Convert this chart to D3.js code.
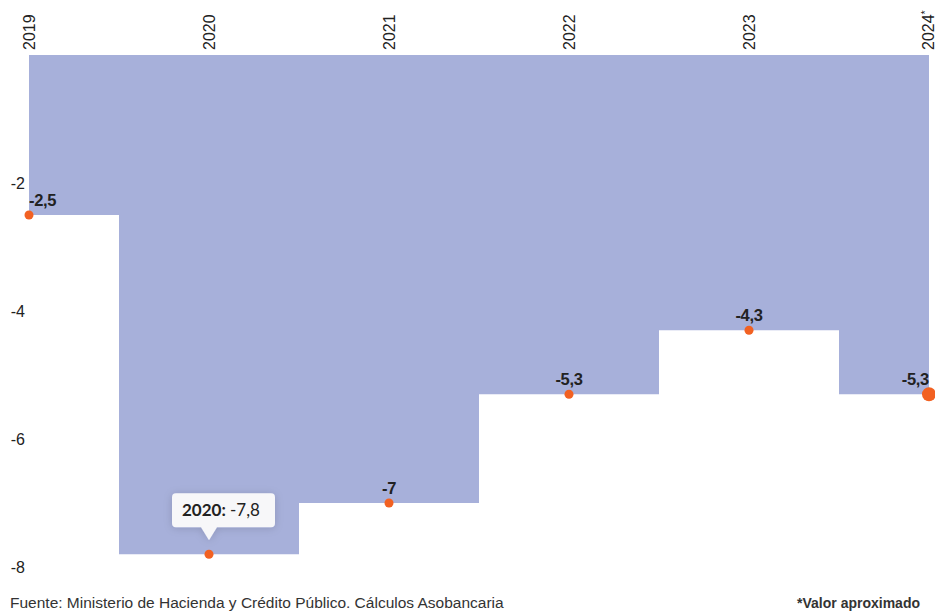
<!DOCTYPE html>
<html>
<head>
<meta charset="utf-8">
<script src="https://cdn.jsdelivr.net/npm/d3@7"></script>
<style>
  body { margin: 0; background: #fff; }
  svg { display: block; font-family: "Liberation Sans", Arial, sans-serif; }
</style>
</head>
<body>
<svg id="chart"></svg>
<script>
// data
const years = ['2019', '2020', '2021', '2022', '2023', '2024*'];
const values = [-2.5, -7.8, -7, -5.3, -4.3, -5.3];
const yTicks = [-2, -4, -6, -8];
const hoverIndex = 1;   // tooltip shown on 2020
const bigDotIndex = 5;  // enlarged marker on 2024

const width = 935, height = 611;
const svg = d3.select('#chart').attr('width', width).attr('height', height);

const x = d3.scalePoint().domain(years).range([29, 929]);
const y = d3.scaleLinear().domain([0, -8]).range([55, 567]);

const data = years.map((yr, i) => ({ year: yr, value: values[i] }));
const fmt = v => String(v).replace('.', ',');

// step area from 0 down to value
const area = d3.area()
  .curve(d3.curveStep)
  .x(d => x(d.year))
  .y0(y(0))
  .y1(d => y(d.value));

svg.append('path')
  .datum(data)
  .attr('d', area)
  .attr('fill', '#a7b0da');

// y axis labels
svg.append('g').selectAll('text')
  .data(yTicks)
  .join('text')
  .attr('x', 25)
  .attr('y', d => y(d))
  .attr('dy', '0.35em')
  .attr('text-anchor', 'end')
  .attr('font-size', 16)
  .attr('fill', '#222')
  .text(d => d);

// x axis labels (top, rotated)
svg.append('g').selectAll('text')
  .data(years)
  .join('text')
  .attr('transform', (d, i) => `translate(${x(d) + (i === years.length - 1 ? 5 : 6)},50) rotate(-90)`)
  .attr('text-anchor', 'start')
  .attr('font-size', 16)
  .attr('fill', '#222')
  .each(function(d) {
    const t = d3.select(this);
    const base = d.replace('*', '');
    t.append('tspan').text(base);
    if (d.endsWith('*')) t.append('tspan').attr('dy', -5).attr('font-size', 11).text('*');
  });

// markers
svg.append('g').selectAll('circle')
  .data(data)
  .join('circle')
  .attr('cx', d => x(d.year))
  .attr('cy', d => y(d.value))
  .attr('r', (d, i) => i === bigDotIndex ? 7 : 4.5)
  .attr('fill', '#f26122');

// data labels
svg.append('g').selectAll('text')
  .data(data)
  .join('text')
  .attr('x', d => x(d.year))
  .attr('y', d => y(d.value) - 9)
  .attr('text-anchor', (d, i) => i === 0 ? 'start' : (i === years.length - 1 ? 'end' : 'middle'))
  .attr('font-size', 16.5)
  .attr('font-weight', 'bold')
  .attr('letter-spacing', -0.3)
  .attr('fill', '#222')
  .text((d, i) => i === hoverIndex ? '' : fmt(d.value));

// tooltip
const hd = data[hoverIndex];
const tx = x(hd.year), ty = y(hd.value);
const tip = svg.append('g').attr('transform', `translate(${tx},${ty})`);
const bw = 103, bh = 34, by = -61;
const defs = svg.append('defs');
const f = defs.append('filter').attr('id', 'shadow').attr('x', '-30%').attr('y', '-30%').attr('width', '160%').attr('height', '180%');
f.append('feDropShadow').attr('dx', 0).attr('dy', 1).attr('stdDeviation', 4).attr('flood-color', '#000').attr('flood-opacity', 0.15);
tip.append('path')
  .attr('d', () => {
    const l = -37, r = l + bw, t = by, b = by + bh, rr = 4;
    return `M${l + rr},${t} H${r - rr} Q${r},${t} ${r},${t + rr} V${b - rr} Q${r},${b} ${r - rr},${b}
            H8 L0,${b + 13} L-8,${b} H${l + rr} Q${l},${b} ${l},${b - rr} V${t + rr} Q${l},${t} ${l + rr},${t} Z`;
  })
  .attr('fill', '#f7f7f9')
  .attr('filter', 'url(#shadow)');
const tt = tip.append('text')
  .attr('x', -27)
  .attr('y', by + 23)
  .attr('font-family', 'Lato, "Open Sans", sans-serif')
  .attr('font-size', 17)
  .attr('fill', '#222');
tt.append('tspan').attr('font-weight', 'bold').text(hd.year + ': ');
tt.append('tspan').text(fmt(hd.value));

// footer
svg.append('text')
  .attr('x', 10).attr('y', 608)
  .attr('font-size', 15.5)
  .attr('fill', '#333')
  .text('Fuente: Ministerio de Hacienda y Crédito Público. Cálculos Asobancaria');
svg.append('text')
  .attr('x', 920).attr('y', 608)
  .attr('text-anchor', 'end')
  .attr('font-size', 14)
  .attr('font-weight', 'bold')
  .attr('fill', '#333')
  .text('*Valor aproximado');
</script>
</body>
</html>
